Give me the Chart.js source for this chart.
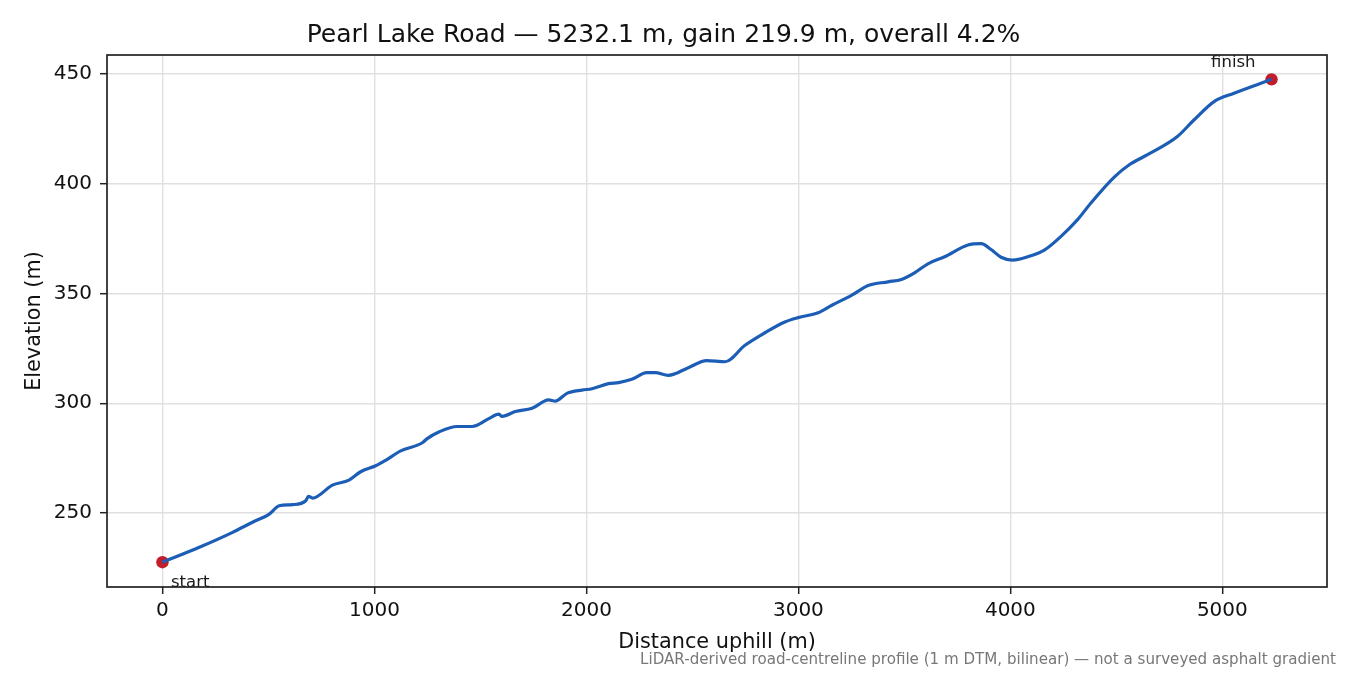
<!DOCTYPE html>
<html>
<head>
<meta charset="utf-8">
<script src="https://cdn.jsdelivr.net/npm/chart.js@4/dist/chart.umd.min.js"></script>
<style>
  html, body { margin: 0; padding: 0; background: #fff; }
  #wrap { width: 1350px; height: 675px; position: relative; }
</style>
</head>
<body>
<div id="wrap"><canvas id="profile" width="1350" height="675"></canvas></div>
<script>
// --- data (distance m, elevation m)
const distance = [0, 174, 331, 425, 504, 551, 614, 676, 689, 708, 802, 880, 935, 1006, 1053,
  1124, 1226, 1249, 1304, 1390, 1461, 1540, 1587, 1602, 1665, 1744, 1822, 1853, 1908, 1979,
  2026, 2104, 2152, 2214, 2285, 2324, 2387, 2481, 2567, 2654, 2748, 2842, 2936, 2999, 3093,
  3156, 3250, 3329, 3423, 3486, 3548, 3611, 3690, 3800, 3862, 3909, 3956, 4011, 4082, 4160,
  4239, 4317, 4380, 4490, 4561, 4647, 4788, 4867, 4961, 5055, 5232.1];
const elevation = [227.6, 234.4, 241.2, 245.8, 249.5, 253.3, 253.8, 255.6, 257.6, 256.8, 262.7,
  265.0, 268.8, 271.5, 274.0, 278.3, 282.0, 283.9, 286.9, 289.4, 289.4, 293.0, 295.0, 294.0,
  296.2, 297.7, 301.5, 301.0, 304.5, 306.0, 306.6, 308.9, 309.4, 310.9, 313.9, 313.9, 312.7,
  316.2, 319.4, 318.9, 326.4, 332.1, 337.0, 339.0, 341.2, 344.5, 349.1, 353.6, 355.3, 356.4,
  359.4, 363.5, 366.7, 372.1, 372.7, 370.0, 366.5, 365.2, 366.7, 369.7, 376.0, 383.6, 391.2,
  403.0, 408.6, 413.2, 421.5, 429.1, 437.4, 441.2, 447.5];
const xTicks = [0, 1000, 2000, 3000, 4000, 5000];
const yTicks = [250, 300, 350, 400, 450];
const endLabels = ['start', 'finish'];

const titleText = 'Pearl Lake Road \u2014 5232.1 m, gain 219.9 m, overall 4.2%';
const footText = 'LiDAR-derived road-centreline profile (1 m DTM, bilinear) \u2014 not a surveyed asphalt gradient';

// --- build datasets
const profilePts = distance.map((d, i) => ({ x: d, y: elevation[i] }));
const last = distance.length - 1;
const endPts = [
  { x: distance[0], y: elevation[0] },
  { x: distance[last], y: elevation[last] }
];

const FONT = "'DejaVu Sans', sans-serif";
const GRID = '#e0e0e0';

// frame + annotations + footnote
const extras = {
  id: 'extras',
  afterDatasetsDraw(chart) {
    const { ctx, chartArea: a } = chart;
    const meta = chart.getDatasetMeta(1);
    ctx.save();
    ctx.beginPath();
    ctx.rect(a.left, a.top, a.right - a.left, a.bottom - a.top);
    ctx.clip();
    ctx.fillStyle = '#1a1a1a';
    ctx.font = '16.5px ' + FONT;
    const p0 = meta.data[0], p1 = meta.data[1];
    ctx.textAlign = 'left';
    ctx.textBaseline = 'alphabetic';
    ctx.fillText(endLabels[0], p0.x + 8.5, p0.y + 25);
    ctx.textAlign = 'right';
    ctx.fillText(endLabels[1], p1.x - 16, p1.y - 12.5);
    ctx.restore();
  },
  afterDraw(chart) {
    const { ctx, chartArea: a } = chart;
    ctx.save();
    ctx.strokeStyle = '#222';
    ctx.lineWidth = 1.7;
    ctx.strokeRect(a.left, a.top, a.right - a.left, a.bottom - a.top);
    ctx.fillStyle = '#777';
    ctx.font = '15.1px ' + FONT;
    ctx.textAlign = 'right';
    ctx.textBaseline = 'alphabetic';
    ctx.fillText(footText, 1336, 664);
    ctx.restore();
  }
};

new Chart(document.getElementById('profile'), {
  type: 'line',
  data: {
    datasets: [
      { data: profilePts, borderColor: '#1c5db5', borderWidth: 3.2, pointRadius: 0,
        cubicInterpolationMode: 'monotone', fill: false },
      { data: endPts, showLine: false, pointRadius: 6.2, pointHoverRadius: 6.2,
        pointBackgroundColor: '#c21d2a', pointBorderColor: '#c21d2a', pointBorderWidth: 0 }
    ]
  },
  options: {
    responsive: false,
    animation: false,
    events: [],
    layout: { padding: { left: 0, right: 23, top: 0, bottom: 0 } },
    plugins: {
      legend: { display: false },
      tooltip: { enabled: false },
      title: { display: true, text: titleText, color: '#111',
        font: { family: FONT, size: 25, weight: 'normal' }, padding: { top: 20, bottom: 5 } }
    },
    scales: {
      x: {
        type: 'linear', min: -261.6, max: 5493.7,
        afterBuildTicks: s => { s.ticks = xTicks.map(v => ({ value: v })); },
        afterFit: s => { s.height = 88; },
        grid: { color: GRID, lineWidth: 1.4, tickColor: '#222', tickLength: 7, tickWidth: 1.5 },
        border: { display: false },
        ticks: { color: '#111', padding: 5, maxRotation: 0, font: { family: FONT, size: 20 },
          callback: v => String(v) },
        title: { display: true, text: 'Distance uphill (m)', color: '#111',
          font: { family: FONT, size: 20.8 }, padding: { top: 20, bottom: 20 } }
      },
      y: {
        type: 'linear', min: 216.3, max: 458.6,
        afterBuildTicks: s => { s.ticks = yTicks.map(v => ({ value: v })); },
        afterFit: s => { s.width = 107; },
        grid: { color: GRID, lineWidth: 1.4, tickColor: '#222', tickLength: 7, tickWidth: 1.5 },
        border: { display: false },
        ticks: { color: '#111', padding: 8, font: { family: FONT, size: 20 },
          callback: v => String(v) },
        title: { display: true, text: 'Elevation (m)', color: '#111',
          font: { family: FONT, size: 20.8 }, padding: { top: 22.5, bottom: 22.5 } }
      }
    }
  },
  plugins: [extras]
});
</script>
</body>
</html>
